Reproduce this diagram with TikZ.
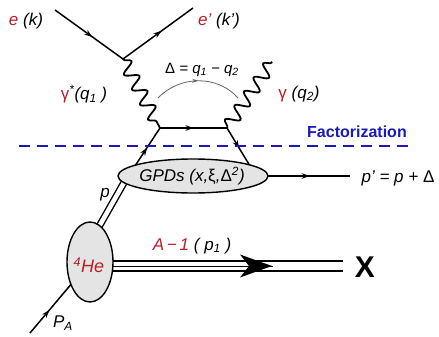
\documentclass[tikz,border=0pt]{standalone}
\usepackage{fontspec}
\setmainfont{Liberation Sans}
\usetikzlibrary{decorations.pathmorphing,decorations.markings,arrows.meta,shapes.geometric}
\definecolor{dred}{RGB}{185,30,40}
\definecolor{fblue}{RGB}{25,25,190}
\definecolor{blobgray}{RGB}{228,228,228}
\begin{document}
\begin{tikzpicture}[x=1pt,y=-1pt,
  lbl/.style={font=\fontsize{17}{20}\selectfont\itshape, inner sep=0pt},
  fline/.style={line width=1.5pt, postaction={decorate},
    decoration={markings, mark=at position #1 with {\arrow{Stealth[length=8pt,width=5.5pt]}}}},
  fline/.default=0.55,
  photon/.style={line width=1.8pt, decorate,
    decoration={snake, amplitude=6.5pt, segment length=17pt, pre length=0.5pt, post length=0.5pt}},
  dline/.style={double, double distance=#1, line width=1.4pt},
  blob/.style={ellipse, draw, line width=1.4pt, fill=blobgray, inner sep=0pt}]
\useasboundingbox (0,0) rectangle (439,337);
% vertices
\coordinate (ein) at (55,10);
\coordinate (vtx) at (123,59);
\coordinate (eout) at (193,8);
\coordinate (q1) at (160,128);
\coordinate (q2) at (227,128);
\coordinate (gend) at (272,62);
\coordinate (qa) at (133,169);
\coordinate (qb) at (250,166);
\coordinate (pa) at (96,232);
\coordinate (pb) at (130,172);
\coordinate (ha) at (100,266);
\coordinate (xend) at (343,266);
\coordinate (pin) at (30,333);
\coordinate (pA) at (73,282);
\coordinate (gr) at (266,176);
\coordinate (pout) at (350,176);
\coordinate (arcl) at (158,98);
\coordinate (arcr) at (238,98);
% electrons
\draw[fline] (ein) -- (vtx);
\draw[fline] (vtx) -- (eout);
% photons
\draw[photon] (vtx) -- (q1);
\draw[photon] (q2) -- (gend);
% quarks
\draw[fline=0.5] (q1) -- (q2);
\draw[fline=0.52] (qa) -- (q1);
\draw[fline=0.53] (q2) -- (qb);
% momentum transfer arc
\draw[gray!80!black, line width=0.8pt, postaction={decorate},
  decoration={markings, mark=at position 0.5 with {\arrow{Stealth[length=6pt,width=4pt]}}}]
  (arcl) .. controls (180,75) and (218,75) .. (arcr);
% factorization line
\coordinate (fl) at (19,146);
\coordinate (fr) at (409,146);
\draw[fblue, line width=1.4pt, dash pattern=on 11pt off 7pt] (fl) -- (fr);
% nucleon lines
\draw[dline=4.5pt] (pa) -- (pb);
\draw[dline=8.5pt] (ha) -- (xend);
\draw[line width=0pt, postaction={decorate},
  decoration={markings, mark=at position 1 with {\arrow{Stealth[length=32pt,width=23pt,inset=9pt]}}}]
  (ha) -- (272,266);
\draw[fline=0.45] (pin) -- (pA);
\draw[fline=0.52] (gr) -- (pout);
% blobs
\node[blob, minimum width=150pt, minimum height=34pt] (gpd) at (193,176) {};
\node[lbl, font=\fontsize{17}{20}\selectfont\itshape] (gpdt) at (192,176) {GPDs (x,{\upshape ξ},{\upshape Δ}\textsuperscript{2})};
\node[blob, minimum width=46pt, minimum height=80pt] (he) at (90,262) {};
\node[lbl, text=dred, font=\fontsize{18}{20}\selectfont\itshape] (het) at (89,265) {\textsuperscript{4}He};
% labels
\node[lbl] (lek) at (26,21) {\textcolor{dred}{e} (k)};
\node[lbl] (lekp) at (219,21) {\textcolor{dred}{e'} (k')};
\node[lbl] (lg1) at (84,94) {\textcolor{dred}{\upshape γ}\textsuperscript{*}(q\textsubscript{1} )};
\node[lbl, font=\fontsize{15}{16}\selectfont\itshape] (ldel) at (202,70) {{\upshape Δ} = q\textsubscript{1} − q\textsubscript{2}};
\node[lbl] (lg2) at (299,94) {\textcolor{dred}{\upshape γ} (q\textsubscript{2})};
\node[lbl, text=fblue, font=\fontsize{16}{18}\selectfont\bfseries] (lfac) at (357,132) {Factorization};
\node[lbl] (lpp) at (398,178) {p' = p + {\upshape Δ}};
\node[lbl] (lp) at (105,195) {p};
\node[lbl] (la1) at (192,246) {\textcolor{dred}{A\,−\,1} ( p\textsubscript{1} )};
\node[lbl, font=\fontsize{30}{32}\selectfont\bfseries] (lx) at (365,267) {X};
\node[lbl] (lpa) at (63,323) {P\textsubscript{A}};
\end{tikzpicture}
\end{document}
